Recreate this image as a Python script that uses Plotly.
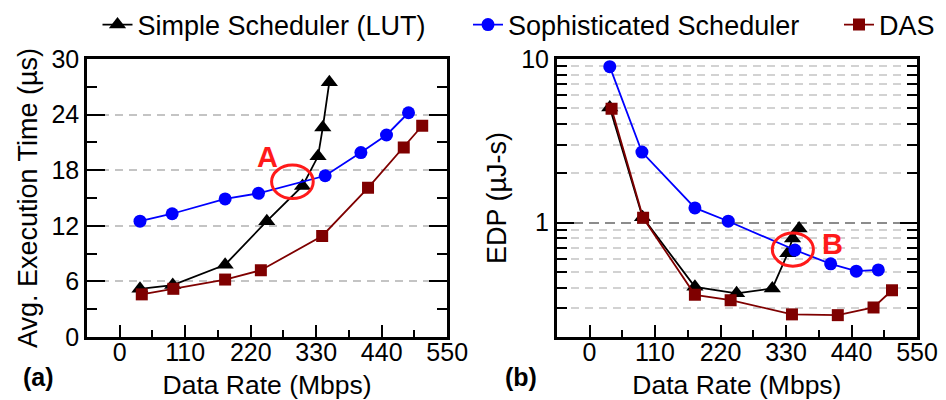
import plotly.graph_objects as go
from plotly.subplots import make_subplots

# ---- data -------------------------------------------------------------
# Simple Scheduler (LUT)
lut_rate = [34, 89, 177, 247, 307, 333, 341, 352]
lut_time = [5.2, 5.6, 7.8, 12.5, 16.3, 19.5, 22.6, 27.5]
lut_edp = [5.05, 1.08, 0.405, 0.37, 0.396, 0.65, 0.80, 0.92]

# Sophisticated Scheduler
soph_rate = [34, 88, 177, 233, 345, 405, 448, 485]
soph_time = [12.5, 13.3, 14.9, 15.5, 17.4, 19.9, 21.8, 24.2]
soph_edp = [8.98, 2.7, 1.23, 1.02, 0.68, 0.56, 0.505, 0.514]

# DAS
das_rate = [37, 90, 177, 237, 340, 417, 477, 508]
das_time = [4.6, 5.2, 6.2, 7.2, 10.9, 16.1, 20.45, 22.8]
das_edp = [4.96, 1.07, 0.362, 0.336, 0.275, 0.272, 0.303, 0.386]

x_ticks = [0, 110, 220, 330, 440, 550]
series = [
    ("Simple Scheduler (LUT)", lut_rate, lut_time, lut_edp, "black", "triangle-up", 15),
    ("Sophisticated Scheduler", soph_rate, soph_time, soph_edp, "#0000ff", "circle", 13),
    ("DAS", das_rate, das_time, das_edp, "#7f0000", "square", 12),
]

FONT = "Liberation Sans, Arial, sans-serif"
W, H = 946, 400
ml, mr, mt, mb = 86.7, 28.7, 59, 63.3
pw, ph = W - ml - mr, H - mt - mb


def px_to_paper(px, py):
    """Pixel position in the page -> paper coordinates of the plot area."""
    return (px - ml) / pw, (H - py - mb) / ph


fig = make_subplots(rows=1, cols=2, horizontal_spacing=0.132)

legend_names = ["legend", "legend2", "legend3"]
for i, (name, xr, yt, ye, color, sym, msize) in enumerate(series):
    common = dict(mode="lines+markers", name=name,
                  line=dict(color=color, width=1.8),
                  marker=dict(symbol=sym, size=msize, color=color))
    fig.add_trace(go.Scatter(x=xr, y=yt, legend=legend_names[i],
                             showlegend=True, **common), row=1, col=1)
    fig.add_trace(go.Scatter(x=xr, y=ye, showlegend=False, **common),
                  row=1, col=2)

axis_line = dict(showline=True, linecolor="black", linewidth=2.5,
                 ticks="inside", tickcolor="black",
                 tickfont=dict(family=FONT, size=25, color="black"),
                 zeroline=False)

xcommon = dict(range=[-55, 550], tickvals=x_ticks, ticklen=12, tickwidth=2,
               mirror=True, showgrid=False, ticklabelstandoff=-9,
               minor=dict(dtick=55, tick0=0, ticks="inside", ticklen=7,
                          tickwidth=2, tickcolor="black"),
               title=dict(text="Data Rate (Mbps)",
                          font=dict(family=FONT, size=26.5, color="black"),
                          standoff=21),
               **axis_line)
fig.update_xaxes(**xcommon, row=1, col=1)
fig.update_xaxes(**xcommon, row=1, col=2)

fig.update_yaxes(range=[0, 30], dtick=6, tick0=0, ticklen=18, tickwidth=2,
                 mirror="ticks", showgrid=True, gridcolor="#c4c4c4",
                 gridwidth=1.8, griddash="8px,6px",
                 minor=dict(dtick=3, tick0=0, ticks="inside", ticklen=10,
                            tickwidth=2, tickcolor="black", showgrid=False),
                 title=dict(text="Avg. Execution Time (µs)",
                            font=dict(family=FONT, size=27, color="black"),
                            standoff=6),
                 **axis_line, row=1, col=1)

fig.update_yaxes(type="log", range=[-0.69897, 1], dtick=1, ticklen=17,
                 tickwidth=2, mirror="ticks", showgrid=True,
                 gridcolor="#8c8c8c", gridwidth=1.8, griddash="10px,6px",
                 minor=dict(dtick="D1", ticks="inside", ticklen=10,
                            tickwidth=2, tickcolor="black", showgrid=True,
                            gridcolor="#d2d2d2", gridwidth=1.5,
                            griddash="8px,6px"),
                 title=dict(text="EDP (µJ-s)",
                            font=dict(family=FONT, size=27, color="black"),
                            standoff=7),
                 **axis_line, row=1, col=2)

# highlighted regions A and B
red = "#ff1a1a"
fig.add_shape(type="circle", xref="x", yref="y", x0=255, x1=325,
              y0=14.95, y1=18.55, line=dict(color=red, width=3))
fig.add_annotation(x=247.5, y=19.4, xref="x", yref="y", text="<b>A</b>",
                   showarrow=False, font=dict(family=FONT, size=29, color=red))
fig.add_shape(type="circle", xref="x2", yref="y2", x0=307, x1=376,
              y0=0.542, y1=0.865, line=dict(color=red, width=3))
fig.add_annotation(x=408.6, y=-0.132, xref="x2", yref="y2", text="<b>B</b>",
                   showarrow=False, font=dict(family=FONT, size=29, color=red))

# panel tags
for tag, px in (("(a)", 38), ("(b)", 521.5)):
    ax_, ay_ = px_to_paper(px, 377)
    fig.add_annotation(x=ax_, y=ay_, xref="paper", yref="paper",
                       xanchor="center", yanchor="middle", showarrow=False,
                       text=f"<b>{tag}</b>",
                       font=dict(family=FONT, size=25, color="black"))

# one legend entry per box, laid out in a single row above the panels
legend_style = dict(orientation="h", xref="container", yref="container",
                    xanchor="left", yanchor="middle", y=1 - 25 / H,
                    bgcolor="rgba(0,0,0,0)",
                    font=dict(family=FONT, size=27, color="black"),
                    itemwidth=30)
text_starts = [141.5, 512, 883]
layout_legends = {}
for key, tx in zip(legend_names, text_starts):
    layout_legends[key] = dict(x=(tx - 44) / W, **legend_style)

fig.update_layout(
    width=W, height=H,
    margin=dict(l=ml, r=mr, t=mt, b=mb, autoexpand=False),
    plot_bgcolor="white", paper_bgcolor="white",
    font=dict(family=FONT, color="black"),
    **layout_legends,
)

fig.write_html("out.html")
